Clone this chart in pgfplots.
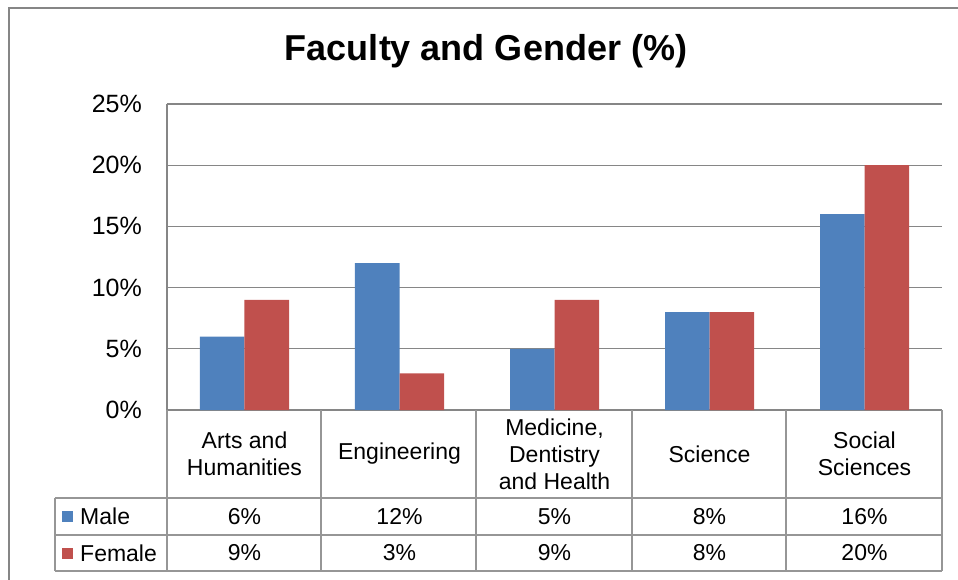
\documentclass[border=0pt]{standalone}
\usepackage{pgfplots}
\pgfplotsset{compat=1.18}
\usepackage{pgfplotstable}
\usepackage{fontspec}
\setmainfont{Liberation Sans}

\definecolor{maleblue}{RGB}{79,129,189}
\definecolor{femalered}{RGB}{192,80,77}
\definecolor{gridgray}{RGB}{134,134,134}
\definecolor{tablegray}{RGB}{150,150,150}

\newcommand{\tablefont}{\fontsize{23}{27}\selectfont}

% faculty index, male %, female %
\pgfplotstableread{
x male female
0 6 9
1 12 3
2 5 9
3 8 8
4 16 20
}\facultydata

\begin{document}
\begin{tikzpicture}
\path[use as bounding box] (-167pt,-169pt) rectangle (791pt,410pt);
\draw[gridgray, line width=2.5pt] (-158pt,-175pt) -- (-158pt,402pt) -- (800pt,402pt);
\node[font=\fontsize{36}{40}\selectfont\bfseries, anchor=base] at (319pt,349pt) {Faculty and Gender (\%)};

\begin{axis}[
    at={(0pt,0pt)}, anchor=south west,
    scale only axis, width=775pt, height=306pt,
    xmin=-0.5, xmax=4.5, ymin=0, ymax=25,
    clip=false,
    axis lines*=left,
    axis line style={gridgray, line width=1.2pt},
    ymajorgrids,
    grid style={gridgray, line width=1.2pt},
    major tick length=0pt,
    xtick={0,1,2,3,4},
    xticklabels={Arts and\\Humanities, Engineering, {Medicine,\\Dentistry\\and Health}, Science, Social\\Sciences},
    xticklabel style={anchor=center, yshift=-44pt, align=center, font=\tablefont},
    ytick={0,5,10,15,20,25},
    yticklabels={0\%,5\%,10\%,15\%,20\%,25\%},
    yticklabel style={font=\fontsize{25}{29}\selectfont, inner sep=0pt, xshift=-25pt},
]
\addplot[ybar, bar width=44.5pt, bar shift=-22.25pt, fill=maleblue, draw=none] table[x=x, y=male] {\facultydata};
\addplot[ybar, bar width=44.5pt, bar shift=22.25pt, fill=femalered, draw=none] table[x=x, y=female] {\facultydata};

% data table rows
\addplot[draw=none, mark=none, nodes near coords={\pgfplotspointmeta\%}, point meta=explicit symbolic,
    nodes near coords align={anchor=center},
    every node near coord/.append style={text=black, font=\tablefont, inner sep=0pt}]
    table[x=x, y expr=-8.70, meta=male] {\facultydata};
\addplot[draw=none, mark=none, nodes near coords={\pgfplotspointmeta\%}, point meta=explicit symbolic,
    nodes near coords align={anchor=center},
    every node near coord/.append style={text=black, font=\tablefont, inner sep=0pt}]
    table[x=x, y expr=-11.68, meta=female] {\facultydata};
\end{axis}

% table grid
\draw[tablegray, line width=1.2pt]
  (-112pt,-88pt) -- (775pt,-88pt)
  (-112pt,-125pt) -- (775pt,-125pt)
  (-112pt,-161pt) -- (775pt,-161pt)
  (-112pt,-88pt) -- (-112pt,-161pt);
\foreach \xx in {0,154,309,465,619,775}
  \draw[tablegray, line width=1.2pt] (\xx pt,0pt) -- (\xx pt,-161pt);

% legend keys in the table
\fill[maleblue] (-104.5pt,-112pt) rectangle (-93.5pt,-101pt);
\node[anchor=west, inner sep=0pt, font=\tablefont] at (-87pt,-106.5pt) {Male};
\fill[femalered] (-104.5pt,-148.5pt) rectangle (-93.5pt,-137.5pt);
\node[anchor=west, inner sep=0pt, font=\tablefont] at (-87pt,-143pt) {Female};
\end{tikzpicture}
\end{document}
